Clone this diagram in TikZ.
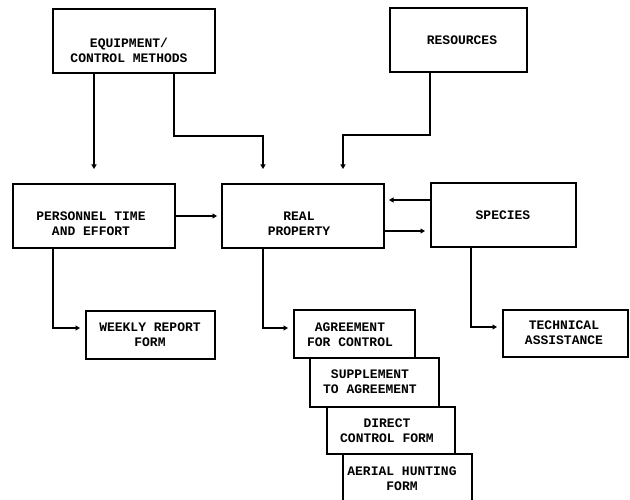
\documentclass[tikz,border=0pt]{standalone}
\usepackage{fontspec}
\setmonofont{Liberation Mono}
\usetikzlibrary{arrows.meta}
\tikzset{
  box/.style={draw, line width=1.8pt, fill=white, inner sep=0pt, outer sep=0pt},
  txt/.style={font=\ttfamily\bfseries\fontsize{13}{15}\selectfont, align=center, inner sep=0pt},
  arr/.style={line width=1.9pt, -{Triangle[width=5pt,length=4.5pt]}}
}
\begin{document}
\begin{tikzpicture}[x=1pt,y=-1pt]
\useasboundingbox (0,0) rectangle (630,500);
\clip (0,0) rectangle (630,500);
% boxes
\node[box, minimum width=162pt, minimum height=64pt] (eq) at (134,41) {};
\node[box, minimum width=137pt, minimum height=64pt] (res) at (458.5,40) {};
\node[box, minimum width=162pt, minimum height=64pt] (pt) at (94,216) {};
\node[box, minimum width=162pt, minimum height=64pt] (rp) at (303,216) {};
\node[box, minimum width=145pt, minimum height=64pt] (sp) at (503.5,215) {};
\node[box, minimum width=129pt, minimum height=48pt] (wk) at (150.5,335) {};
\node[box, minimum width=121pt, minimum height=48pt] (ag) at (354.5,334) {};
\node[box, minimum width=129pt, minimum height=49pt] (su) at (374.5,382.5) {};
\node[box, minimum width=128pt, minimum height=47pt] (dc) at (391,430.5) {};
\node[box, minimum width=129pt, minimum height=60pt] (ah) at (407.5,484) {};
\node[box, minimum width=125pt, minimum height=47pt] (ta) at (565.5,333.5) {};
% texts
\node[txt] (eqt) at (129,50) {EQUIPMENT/\\CONTROL METHODS};
\node[txt] (rest) at (462,40.5) {RESOURCES};
\node[txt] (ptt) at (91,224) {PERSONNEL TIME\\AND EFFORT};
\node[txt] (rpt) at (299,224) {REAL\\PROPERTY};
\node[txt] (spt) at (503,215) {SPECIES};
\node[txt] (wkt) at (150,335) {WEEKLY REPORT\\FORM};
\node[txt] (agt) at (350,335) {AGREEMENT\\FOR CONTROL};
\node[txt] (sut) at (370,382) {SUPPLEMENT\\TO AGREEMENT};
\node[txt] (dct) at (387,431) {DIRECT\\CONTROL FORM};
\node[txt] (aht) at (402,479) {AERIAL HUNTING\\FORM};
\node[txt] (tat) at (564,333) {TECHNICAL\\ASSISTANCE};
% connectors
\draw[arr] (eq.south -| pt.north) -- ([yshift=15pt]pt.north);
\draw[arr] ([xshift=40pt]eq.south) -- ++(0,63) -| ([xshift=-40pt,yshift=15pt]rp.north);
\draw[arr] ([xshift=-28.5pt]res.south) -- ++(0,63) -| ([xshift=40pt,yshift=15pt]rp.north);
\draw[arr] (pt.east) -- ([xshift=-5pt]rp.west);
\draw[arr] ([yshift=15pt]sp.west) -- ([xshift=5pt,yshift=15pt]rp.east |- sp.west);
\draw[arr] ([yshift=-15pt]rp.east) -- ([xshift=-6pt,yshift=-15pt]sp.west |- rp.east);
\draw[arr] ([xshift=-41pt]pt.south) |- ([xshift=-6pt,yshift=7pt]wk.west);
\draw[arr] ([xshift=-40pt]rp.south) |- ([xshift=-6pt,yshift=6pt]ag.west);
\draw[arr] ([xshift=-32.5pt]sp.south) |- ([xshift=-6pt,yshift=6.5pt]ta.west);
\end{tikzpicture}
\end{document}
